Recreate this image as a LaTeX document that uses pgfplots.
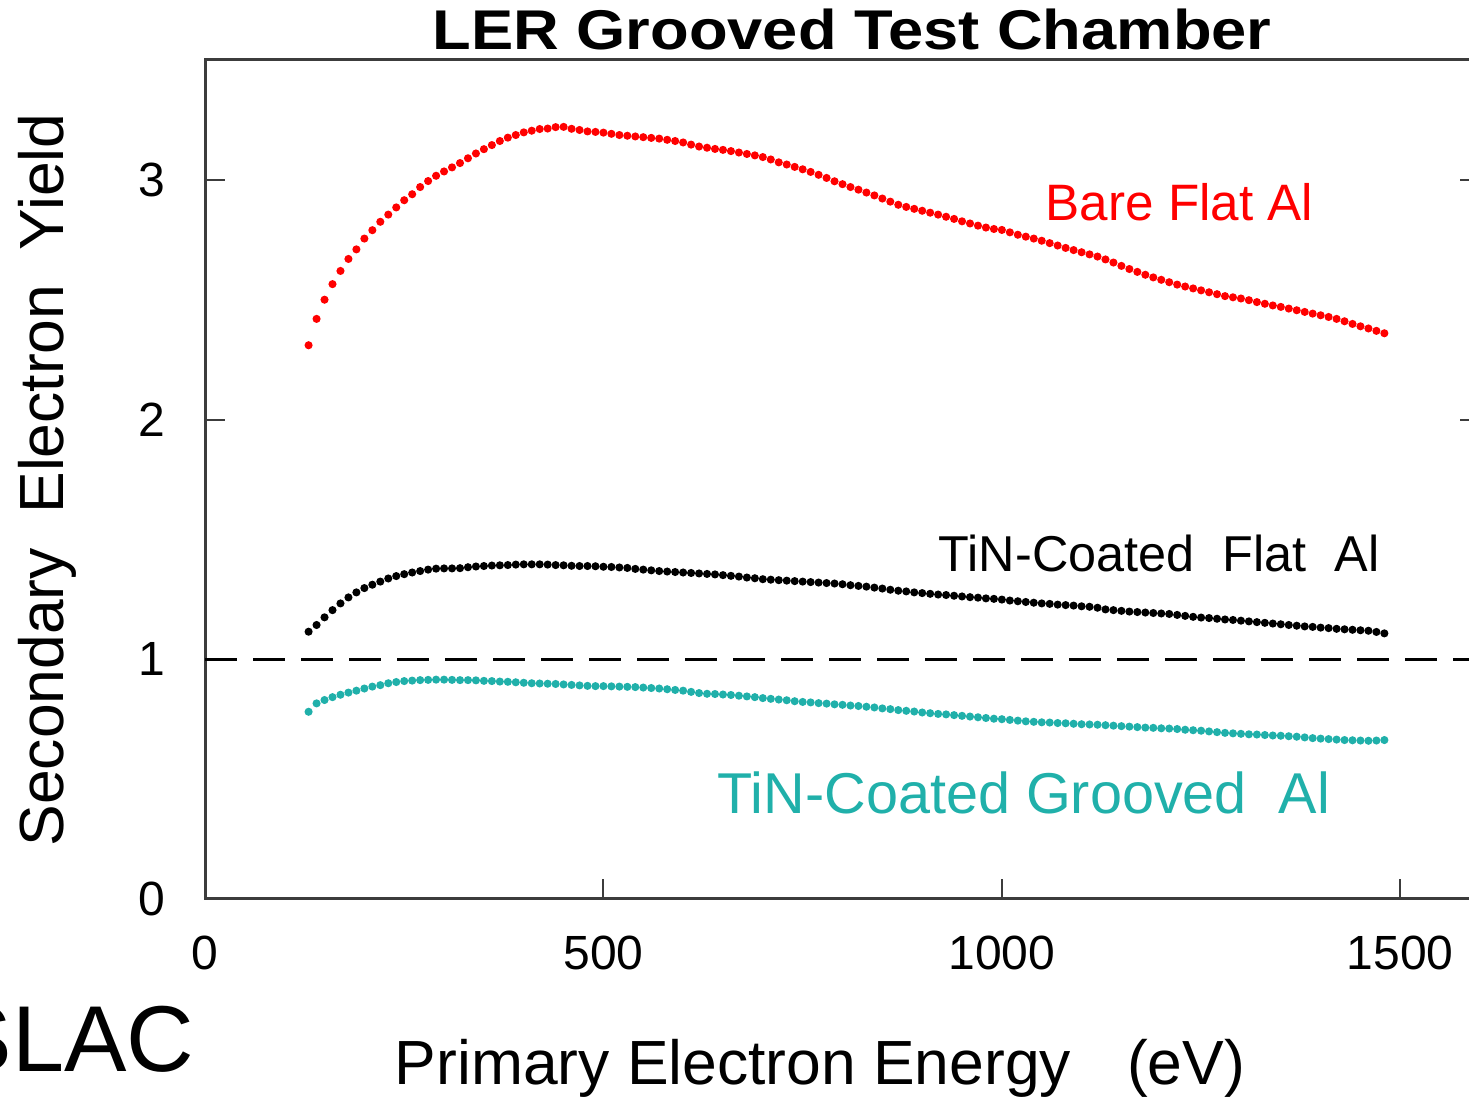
\documentclass[border=0pt]{standalone}
\usepackage{fontspec}
\setmainfont{Liberation Sans}
\usepackage{graphicx}
\usepackage{pgfplots}
\usepackage{pgfplotstable}
\pgfplotsset{compat=1.18}
\definecolor{tealc}{RGB}{32,176,170}
\definecolor{axgray}{RGB}{60,60,60}

\pgfplotstableread{
E Y
130 2.310
140 2.420
150 2.500
160 2.565
170 2.620
180 2.670
190 2.710
200 2.755
210 2.790
220 2.825
230 2.855
240 2.885
250 2.915
260 2.940
270 2.970
280 2.995
290 3.017
300 3.035
310 3.052
320 3.070
330 3.090
340 3.110
350 3.128
360 3.145
370 3.162
380 3.176
390 3.187
400 3.198
410 3.205
420 3.212
430 3.214
440 3.220
450 3.221
460 3.213
470 3.208
480 3.202
490 3.200
500 3.197
510 3.192
520 3.187
530 3.184
540 3.181
550 3.178
560 3.175
570 3.172
580 3.167
590 3.162
600 3.156
610 3.147
620 3.139
630 3.134
640 3.129
650 3.125
660 3.120
670 3.114
680 3.108
690 3.102
700 3.095
710 3.085
720 3.073
730 3.064
740 3.054
750 3.044
760 3.033
770 3.021
780 3.008
790 2.994
800 2.982
810 2.970
820 2.959
830 2.947
840 2.935
850 2.922
860 2.909
870 2.896
880 2.887
890 2.879
900 2.871
910 2.863
920 2.855
930 2.846
940 2.837
950 2.827
960 2.818
970 2.809
980 2.801
990 2.795
1000 2.791
1010 2.781
1020 2.771
1030 2.763
1040 2.755
1050 2.746
1060 2.736
1070 2.726
1080 2.716
1090 2.707
1100 2.698
1110 2.689
1120 2.680
1130 2.668
1140 2.655
1150 2.641
1160 2.628
1170 2.616
1180 2.604
1190 2.593
1200 2.583
1210 2.573
1220 2.563
1230 2.555
1240 2.547
1250 2.539
1260 2.531
1270 2.523
1280 2.515
1290 2.510
1300 2.505
1310 2.498
1320 2.490
1330 2.483
1340 2.476
1350 2.470
1360 2.463
1370 2.456
1380 2.449
1390 2.442
1400 2.435
1410 2.428
1420 2.420
1430 2.410
1440 2.399
1450 2.389
1460 2.380
1470 2.370
1480 2.360
}\bareflat

\pgfplotstableread{
E Y
130 1.115
140 1.143
150 1.175
160 1.205
170 1.233
180 1.258
190 1.279
200 1.297
210 1.311
220 1.324
230 1.337
240 1.347
250 1.355
260 1.362
270 1.368
280 1.374
290 1.378
300 1.379
310 1.379
320 1.380
330 1.384
340 1.387
350 1.389
360 1.391
370 1.392
380 1.393
390 1.395
400 1.396
410 1.396
420 1.396
430 1.395
440 1.393
450 1.392
460 1.390
470 1.389
480 1.389
490 1.388
500 1.386
510 1.385
520 1.383
530 1.381
540 1.377
550 1.374
560 1.371
570 1.368
580 1.366
590 1.364
600 1.362
610 1.360
620 1.358
630 1.356
640 1.354
650 1.351
660 1.348
670 1.345
680 1.341
690 1.338
700 1.334
710 1.332
720 1.330
730 1.328
740 1.326
750 1.324
760 1.322
770 1.320
780 1.318
790 1.316
800 1.313
810 1.309
820 1.306
830 1.303
840 1.299
850 1.295
860 1.290
870 1.286
880 1.283
890 1.279
900 1.276
910 1.273
920 1.270
930 1.268
940 1.265
950 1.262
960 1.259
970 1.257
980 1.254
990 1.252
1000 1.249
1010 1.245
1020 1.242
1030 1.239
1040 1.236
1050 1.233
1060 1.231
1070 1.228
1080 1.226
1090 1.224
1100 1.221
1110 1.219
1120 1.215
1130 1.208
1140 1.205
1150 1.202
1160 1.199
1170 1.197
1180 1.195
1190 1.193
1200 1.191
1210 1.189
1220 1.185
1230 1.181
1240 1.177
1250 1.174
1260 1.172
1270 1.169
1280 1.166
1290 1.164
1300 1.161
1310 1.158
1320 1.155
1330 1.152
1340 1.149
1350 1.146
1360 1.143
1370 1.140
1380 1.137
1390 1.135
1400 1.132
1410 1.130
1420 1.127
1430 1.125
1440 1.123
1450 1.121
1460 1.119
1470 1.114
1480 1.108
}\tinflat

\pgfplotstableread{
E Y
130 0.781
140 0.816
150 0.830
160 0.842
170 0.852
180 0.861
190 0.869
200 0.878
210 0.886
220 0.892
230 0.900
240 0.905
250 0.909
260 0.911
270 0.913
280 0.914
290 0.915
300 0.915
310 0.914
320 0.913
330 0.913
340 0.912
350 0.910
360 0.909
370 0.907
380 0.906
390 0.904
400 0.902
410 0.900
420 0.899
430 0.898
440 0.897
450 0.895
460 0.893
470 0.891
480 0.889
490 0.888
500 0.888
510 0.887
520 0.886
530 0.885
540 0.884
550 0.882
560 0.880
570 0.878
580 0.875
590 0.872
600 0.869
610 0.864
620 0.859
630 0.856
640 0.855
650 0.853
660 0.851
670 0.848
680 0.845
690 0.842
700 0.838
710 0.835
720 0.832
730 0.829
740 0.825
750 0.822
760 0.820
770 0.817
780 0.815
790 0.812
800 0.810
810 0.807
820 0.805
830 0.802
840 0.799
850 0.795
860 0.792
870 0.788
880 0.785
890 0.782
900 0.778
910 0.775
920 0.772
930 0.770
940 0.767
950 0.764
960 0.761
970 0.758
980 0.755
990 0.752
1000 0.750
1010 0.747
1020 0.744
1030 0.741
1040 0.739
1050 0.737
1060 0.736
1070 0.734
1080 0.733
1090 0.731
1100 0.729
1110 0.728
1120 0.727
1130 0.725
1140 0.723
1150 0.721
1160 0.719
1170 0.717
1180 0.715
1190 0.714
1200 0.712
1210 0.711
1220 0.709
1230 0.706
1240 0.704
1250 0.702
1260 0.699
1270 0.696
1280 0.693
1290 0.691
1300 0.689
1310 0.687
1320 0.686
1330 0.684
1340 0.682
1350 0.681
1360 0.679
1370 0.677
1380 0.674
1390 0.671
1400 0.669
1410 0.667
1420 0.665
1430 0.663
1440 0.662
1450 0.661
1460 0.660
1470 0.661
1480 0.663
}\tingroove

\begin{document}
\begin{tikzpicture}[x=1pt,y=1pt]
\useasboundingbox (0,0) rectangle (367.25,275);
\clip (0,0) rectangle (367.25,275);
\begin{axis}[
  at={(51.25pt,50.25pt)}, anchor=south west,
  scale only axis, width=318.75pt, height=209.75pt,
  xmin=0, xmax=1600, ymin=0, ymax=3.5,
  xtick={0,500,1000,1500}, ytick={0,1,2,3},
  xtick pos=bottom, ytick pos=both,
  tick align=inside, major tick length=5pt,
  axis line style={axgray, line width=0.75pt},
  every tick/.style={axgray, line width=0.5pt},
  tick label style={font=\fontsize{12}{12}\selectfont, black},
  /pgf/number format/assume math mode=true,
  /pgf/number format/1000 sep={},
  xticklabel style={yshift=-5.75pt},
  yticklabel style={xshift=-6.5pt},
  clip=false,
]
\addplot[black, line width=0.75pt, dash pattern=on 8pt off 4pt] coordinates {(0,1) (1600,1)};
\addplot[only marks, mark=*, mark size=0.8pt, color=red] table[x=E,y=Y] {\bareflat};
\addplot[only marks, mark=*, mark size=0.8pt, color=black] table[x=E,y=Y] {\tinflat};
\addplot[only marks, mark=*, mark size=0.8pt, color=tealc] table[x=E,y=Y] {\tingroove};
\end{axis}
\node[anchor=base, inner sep=0pt, font=\fontsize{14}{14}\selectfont\bfseries] at (213,262.5) {\scalebox{1.13}[1]{LER Grooved Test Chamber}};
\node[anchor=base, inner sep=0pt, rotate=90, font=\fontsize{15.6}{15.6}\selectfont] at (15.75,155) {Secondary\ \ Electron\ \ Yield};
\node[anchor=base, inner sep=0pt, font=\fontsize{15.6}{15.6}\selectfont] at (205,3.75) {Primary Electron Energy\hspace{0.9em}(eV)};
\node[anchor=base east, inner sep=0pt, font=\fontsize{23.4}{23.4}\selectfont] at (48.75,7) {SLAC};
\node[anchor=base west, inner sep=0pt, text=red, font=\fontsize{12.8}{12.8}\selectfont] at (261.25,219.75) {Bare Flat Al};
\node[anchor=base west, inner sep=0pt, text=black, font=\fontsize{12.6}{12.6}\selectfont] at (234.5,132) {TiN-Coated\ \ Flat\ \ Al};
\node[anchor=base west, inner sep=0pt, text=tealc, font=\fontsize{14.4}{14.4}\selectfont] at (179.25,71.5) {TiN-Coated Grooved\ \ Al};
\end{tikzpicture}
\end{document}
